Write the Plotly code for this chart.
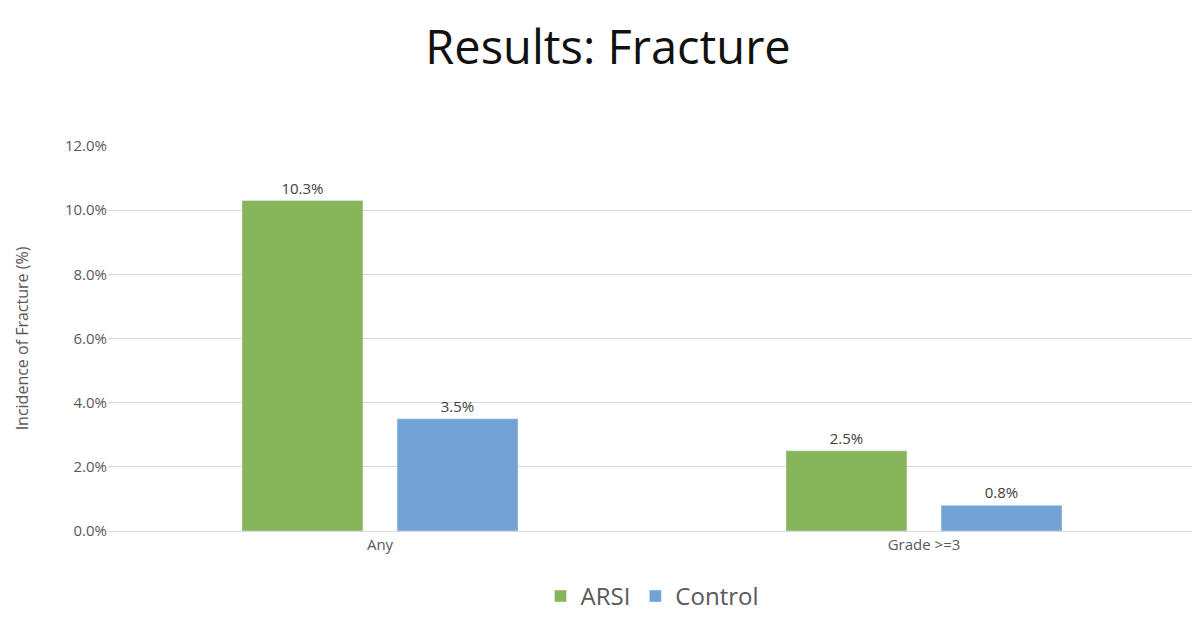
import plotly.graph_objects as go

categories = ["Any", "Grade >=3"]
arsi = [0.103, 0.025]
control = [0.035, 0.008]
arsi_labels = ["10.3%", "2.5%"]
control_labels = ["3.5%", "0.8%"]

fig = go.Figure()
fig.add_bar(x=categories, y=arsi, name="ARSI", marker_color="#86b55a",
            text=arsi_labels, textposition="outside", cliponaxis=False,
            textfont=dict(size=15, color="#404040"))
fig.add_bar(x=categories, y=control, name="Control", marker_color="#72a3d4",
            text=control_labels, textposition="outside", cliponaxis=False,
            textfont=dict(size=15, color="#404040"))

fig.update_layout(
    width=1200, height=632, plot_bgcolor="white", paper_bgcolor="white",
    font=dict(family="Open Sans, sans-serif", color="#595959"),
    margin=dict(l=100, r=12, t=138, b=109),
    bargap=0.43, bargroupgap=0.22,
    title=dict(text="Results: Fracture", x=0.5, xanchor="center", y=0.937, yanchor="middle",
               font=dict(size=47, color="#111111", family="Open Sans, sans-serif")),
    showlegend=True,
    legend=dict(orientation="h", x=0.5, xanchor="center", y=-0.17, yanchor="middle",
                font=dict(size=24, color="#595959")),
    xaxis=dict(tickfont=dict(size=15, color="#595959"), showline=True, linecolor="#d9d9d9",
               ticks=""),
    yaxis=dict(range=[0, 0.12], dtick=0.02, tickformat=".1%", gridcolor="#d9d9d9",
               tickfont=dict(size=15, color="#595959"), zeroline=False,
               title=dict(text="Incidence of Fracture (%)", font=dict(size=16, color="#595959"),
                          standoff=32)),
)
fig.add_annotation(text="The Christie NHS Foundation Trust", xref="paper", yref="paper",
                   x=-0.074, xanchor="right", y=1.48, yanchor="middle", showarrow=False,
                   font=dict(size=17, color="#7fa7d0"))
fig.add_annotation(text="NHS Foundation Trust", xref="paper", yref="paper",
                   x=0.908, xanchor="left", y=1.48, yanchor="middle", showarrow=False,
                   font=dict(size=17, color="#7fa7d0"))
fig.write_html("out.html")
